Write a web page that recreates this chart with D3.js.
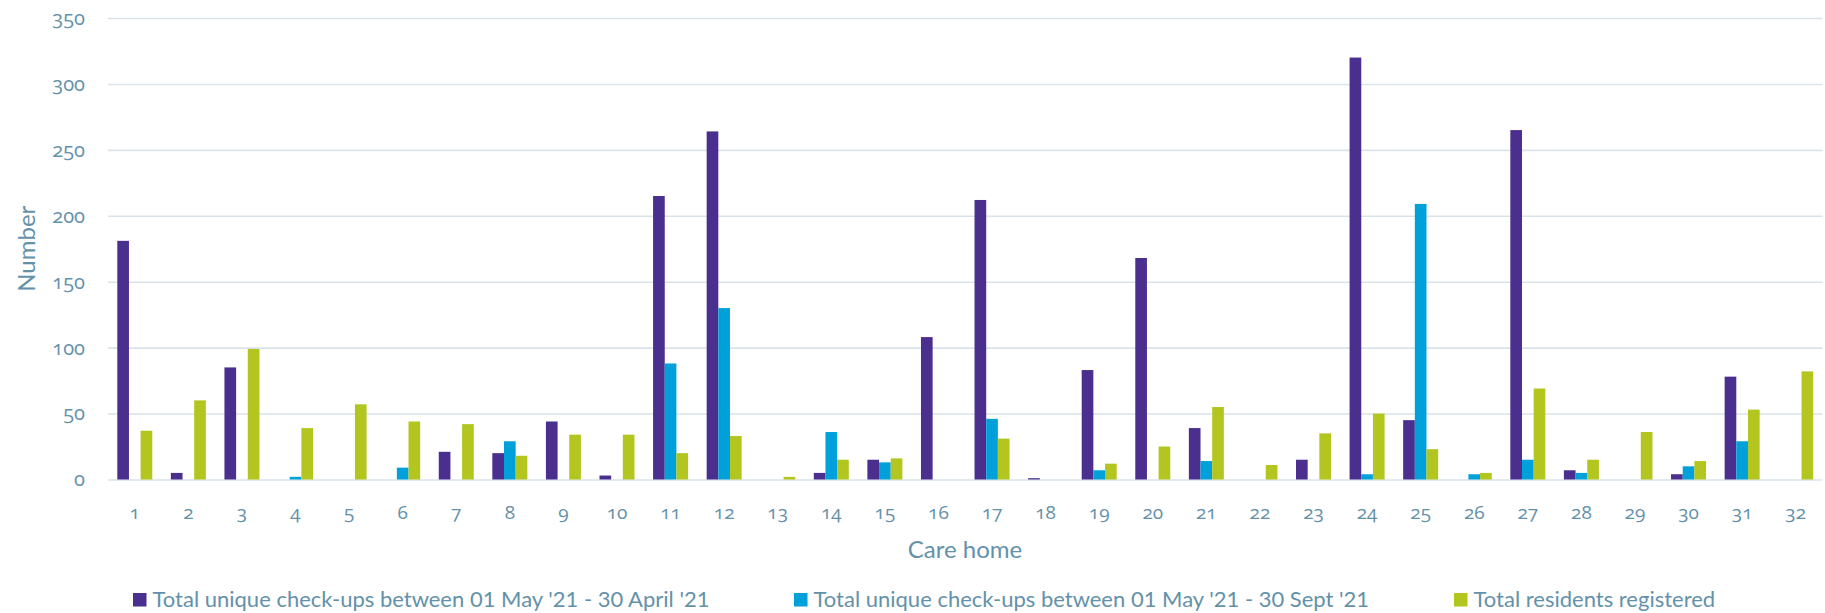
<!DOCTYPE html>
<html>
<head>
<meta charset="utf-8">
<script src="https://cdn.jsdelivr.net/npm/d3@7"></script>
<style>
    body { margin: 0; background: #fff; }
    text { font-family: "Lato", "Open Sans", sans-serif; fill: #6491aa; }
    .num text { font-family: "Open Sans", "Lato", sans-serif; font-feature-settings: "onum" 1; font-variant-numeric: oldstyle-nums; }
</style>
</head>
<body>
<div id="chart"></div>
<script>
// care homes 1..32
const careHomes = d3.range(1, 33).map(String);

const seriesNames = [
    "Total unique check-ups between 01 May '21 - 30 April '21",
    "Total unique check-ups between 01 May '21 - 30 Sept '21",
    "Total residents registered"
];
const seriesColors = ["#4b2f8f", "#00a1da", "#b2c61f"];

const checkUpsYear = [181, 5, 85, 0, 0, 0, 21, 20, 44, 3, 215, 264, 0, 5, 15, 108,
    212, 1, 83, 168, 39, 0, 15, 320, 45, 0, 265, 7, 0, 4, 78, 0];
const checkUpsSept = [0, 0, 0, 2, 0, 9, 0, 29, 0, 0, 88, 130, 0, 36, 13, 0,
    46, 0, 7, 0, 14, 0, 0, 4, 209, 4, 15, 5, 0, 10, 29, 0];
const residents = [37, 60, 99, 39, 57, 44, 42, 18, 34, 34, 20, 33, 2, 15, 16, 0,
    31, 0, 12, 25, 55, 11, 35, 50, 23, 5, 69, 15, 36, 14, 53, 82];

const yTicks = [0, 50, 100, 150, 200, 250, 300, 350];

const allSeries = [checkUpsYear, checkUpsSept, residents];
const data = careHomes.map((home, i) => ({
    home: home,
    values: allSeries.map((arr, s) => ({ series: s, value: arr[i] }))
}));

// dimensions
const width = 1825, height = 613;
const plot = { left: 108, right: 1822.5, top: 18, bottom: 479.5 };

const svg = d3.select("#chart")
    .append("svg")
    .attr("width", width)
    .attr("height", height);

// scales
const x = d3.scaleBand()
    .domain(careHomes)
    .range([plot.left, plot.right])
    .padding(0);

const groupWidth = 35;
const x1 = d3.scaleBand()
    .domain([0, 1, 2])
    .range([0, groupWidth]);

const y = d3.scaleLinear()
    .domain([0, 350])
    .range([plot.bottom, plot.top]);

// y axis with gridlines
const yAxis = d3.axisLeft(y)
    .tickValues(yTicks)
    .tickSize(-(plot.right - plot.left))
    .tickPadding(23);
svg.append("g")
    .attr("class", "num")
    .attr("transform", `translate(${plot.left},0)`)
    .call(yAxis)
    .call(g => g.select(".domain").remove())
    .call(g => g.selectAll(".tick line")
        .attr("stroke", "#d9e3ea")
        .attr("stroke-width", 1.6))
    .call(g => g.selectAll(".tick text")
        .attr("font-size", 20)
        .attr("fill", "#6491aa"));

// y axis label
svg.append("text")
    .attr("text-anchor", "middle")
    .attr("transform", `translate(35,${(plot.top + plot.bottom) / 2}) rotate(-90)`)
    .attr("font-size", 24)
    .text("Number");

// bars
const groups = svg.append("g")
    .selectAll("g")
    .data(data)
    .join("g")
    .attr("transform", d => `translate(${x(d.home) + x.bandwidth() / 2 - groupWidth / 2},0)`);

groups.selectAll("rect")
    .data(d => d.values.filter(v => v.value > 0))
    .join("rect")
    .attr("x", d => x1(d.series))
    .attr("width", x1.bandwidth())
    .attr("y", d => y(d.value))
    .attr("height", d => y(0) - y(d.value))
    .attr("fill", d => seriesColors[d.series]);

// x axis
const xAxis = d3.axisBottom(x)
    .tickSize(0)
    .tickPadding(26);
svg.append("g")
    .attr("class", "num")
    .attr("transform", `translate(0,${plot.bottom})`)
    .call(xAxis)
    .call(g => g.select(".domain").remove())
    .call(g => g.selectAll(".tick text")
        .attr("font-size", 19)
        .attr("fill", "#6491aa"));

// x axis label
svg.append("text")
    .attr("text-anchor", "middle")
    .attr("x", 965)
    .attr("y", 558)
    .attr("font-size", 24)
    .text("Care home");

// legend
const legendX = [133, 794, 1454];
const legend = svg.append("g")
    .selectAll("g")
    .data(seriesNames)
    .join("g")
    .attr("transform", (d, i) => `translate(${legendX[i]},593)`);

legend.append("rect")
    .attr("width", 13.5)
    .attr("height", 13.5)
    .attr("fill", (d, i) => seriesColors[i]);

legend.append("text")
    .attr("x", 19.5)
    .attr("y", 14)
    .attr("font-size", 22)
    .text(d => d);
</script>
</body>
</html>
